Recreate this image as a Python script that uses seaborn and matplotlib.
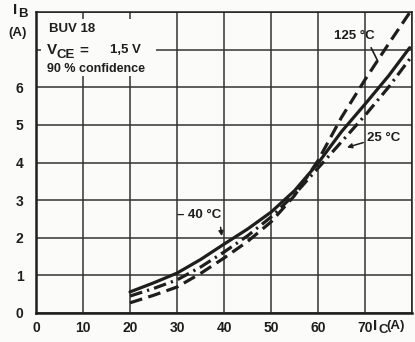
import matplotlib
matplotlib.use("Agg")
import matplotlib.pyplot as plt
import seaborn as sns
import pandas as pd
from matplotlib.patches import Rectangle

sns.set_theme(style="white")
plt.rcParams["font.family"] = ["Liberation Sans", "DejaVu Sans"]
plt.rcParams["font.weight"] = "bold"

# Collector current I_C (A) and base current I_B (A) per junction temperature
ic_cold = [20, 25, 30, 35, 40, 45, 50, 55, 60, 65, 70, 75, 79.5]
ib_cold = [0.56, 0.80, 1.06, 1.42, 1.83, 2.23, 2.68, 3.25, 3.98, 4.82, 5.55, 6.30, 7.05]

ic_room = [20, 25, 30, 35, 40, 45, 50, 55, 60, 65, 70, 75, 79.8]
ib_room = [0.45, 0.65, 0.88, 1.22, 1.62, 2.05, 2.55, 3.15, 3.85, 4.55, 5.25, 6.00, 6.80]

ic_hot = [20, 25, 30, 35, 40, 45, 50, 55, 60, 65, 70, 75, 79.6]
ib_hot = [0.27, 0.47, 0.69, 1.05, 1.46, 1.90, 2.42, 3.12, 4.05, 5.20, 6.20, 7.15, 8.00]

temps = ["-40 °C", "25 °C", "125 °C"]
x_ticks = [0, 10, 20, 30, 40, 50, 60, 70, 80]
x_labels = ["0", "10", "20", "30", "40", "50", "60", "70", ""]
y_ticks = [0, 1, 2, 3, 4, 5, 6, 7, 8]
y_labels = ["0", "1", "2", "3", "4", "5", "6", "", ""]

df = pd.concat([
    pd.DataFrame({"IC": ic_cold, "IB": ib_cold, "T": temps[0]}),
    pd.DataFrame({"IC": ic_room, "IB": ib_room, "T": temps[1]}),
    pd.DataFrame({"IC": ic_hot, "IB": ib_hot, "T": temps[2]}),
])

ink = "#1e1e1e"
paper = "#fbfbf9"
fig = plt.figure(figsize=(4.15, 3.42), dpi=100)
fig.patch.set_facecolor(paper)
ax = fig.add_axes([36 / 415, 1 - 313 / 342, 376 / 415, 301 / 342])
ax.set_facecolor(paper)

sns.lineplot(
    data=df, x="IC", y="IB", style="T", style_order=temps,
    dashes={temps[0]: "", temps[1]: (4, 1.6, 0.7, 1.6), temps[2]: (4, 2)},
    color=ink, linewidth=2.3, legend=False, sort=False, ax=ax, zorder=4,
)

ax.set_xlim(0, 80)
ax.set_ylim(0, 8)
ax.set_xticks(x_ticks)
ax.set_xticklabels(x_labels)
ax.set_yticks(y_ticks)
ax.set_yticklabels(y_labels)
ax.tick_params(axis="both", length=0, labelsize=10, colors=ink)
ax.tick_params(axis="x", pad=6)
ax.tick_params(axis="y", pad=9)
for lab in ax.get_xticklabels() + ax.get_yticklabels():
    lab.set_fontweight("bold")
ax.set_xlabel("")
ax.set_ylabel("")
ax.grid(True, color="#333333", linewidth=1.1)
ax.set_axisbelow(True)
for side, sp in ax.spines.items():
    sp.set_color(ink)
    sp.set_linewidth(1.8 if side in ("left", "bottom") else 1.1)

# blank panel behind the device caption
ax.add_patch(Rectangle((1.0, 6.3), 24.5, 1.52, facecolor=paper,
                       edgecolor="none", zorder=2))

tk = dict(color=ink, fontweight="bold", fontsize=9.5)
ax.text(2.8, 7.55, "BUV 18", va="center", ha="left", zorder=5, **tk)
ax.text(2.3, 6.98, "V", va="center", ha="left", zorder=5, **{**tk, "fontsize": 11})
ax.text(4.3, 6.86, "CE", va="center", ha="left", zorder=5, **tk)
ax.text(9.3, 6.98, "=", va="center", ha="left", zorder=5, **{**tk, "fontsize": 11})
ax.text(15.8, 6.98, "1,5 V", va="center", ha="left", zorder=5, **tk)
ax.text(2.4, 6.48, "90 % confidence", va="center", ha="left", zorder=5,
        **{**tk, "fontsize": 9})

# curve captions with leader lines
ax.text(63.3, 7.35, "125 °C", va="center", ha="left", zorder=5, **tk)
ax.plot([71.3, 72.7], [7.05, 6.7], color=ink, lw=1.2, zorder=5)
ax.text(70.5, 4.64, "25 °C", va="center", ha="left", zorder=5, **tk)
ax.annotate("", xy=(65.6, 4.38), xytext=(70.2, 4.55),
            arrowprops=dict(arrowstyle="-|>", color=ink, lw=1.1,
                            mutation_scale=7), zorder=5)
ax.text(30.0, 2.6, "– 40 °C", va="center", ha="left", zorder=5, **tk)
ax.annotate("", xy=(39.6, 1.97), xytext=(39.2, 2.35),
            arrowprops=dict(arrowstyle="-|>", color=ink, lw=1.1,
                            mutation_scale=7), zorder=5)

# axis titles
fig.text(13 / 415, 1 - 10 / 342, "I", ha="left", va="center",
         color=ink, fontweight="bold", fontsize=11)
fig.text(18 / 415, 1 - 14 / 342, "B", ha="left", va="center",
         color=ink, fontweight="bold", fontsize=9.5)
fig.text(8 / 415, 1 - 33 / 342, "(A)", ha="left", va="center",
         color=ink, fontweight="bold", fontsize=9.5)
fig.text(373 / 415, 1 - 326 / 342, "I", ha="left", va="center",
         color=ink, fontweight="bold", fontsize=11)
fig.text(378 / 415, 1 - 330 / 342, "C", ha="left", va="center",
         color=ink, fontweight="bold", fontsize=9.5)
fig.text(386 / 415, 1 - 326 / 342, "(A)", ha="left", va="center",
         color=ink, fontweight="bold", fontsize=9.5)

fig.savefig("out.png", dpi=100, facecolor=fig.get_facecolor())
